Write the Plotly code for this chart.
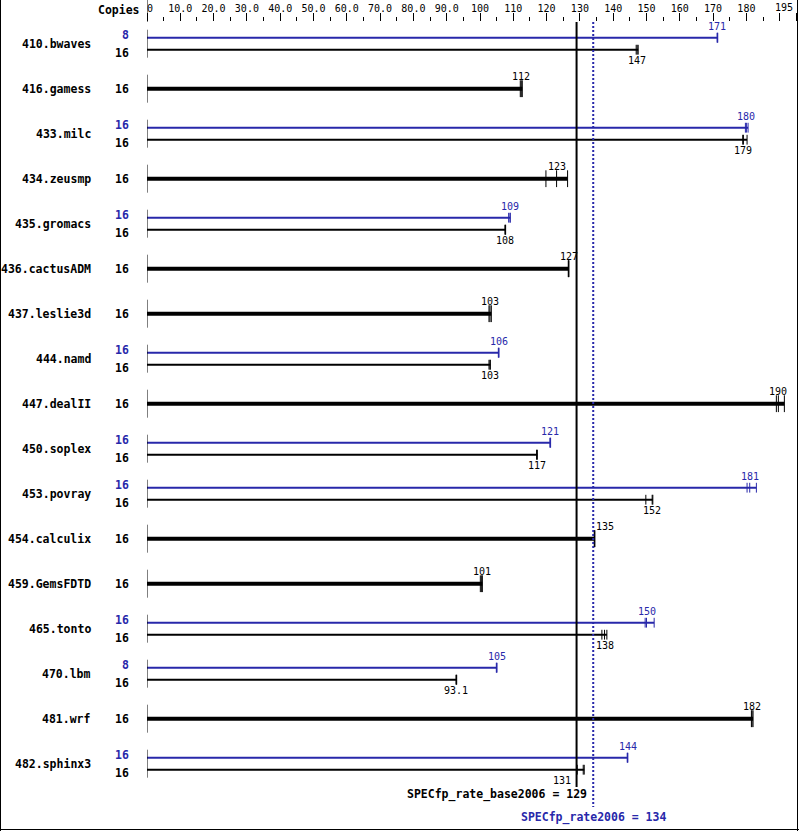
import plotly.graph_objects as go

# ---------------- data ----------------
benchmarks = ["410.bwaves", "416.gamess", "433.milc", "434.zeusmp", "435.gromacs",
              "436.cactusADM", "437.leslie3d", "444.namd", "447.dealII", "450.soplex",
              "453.povray", "454.calculix", "459.GemsFDTD", "465.tonto", "470.lbm",
              "481.wrf", "482.sphinx3"]
base_copies = [16, 16, 16, 16, 16, 16, 16, 16, 16, 16, 16, 16, 16, 16, 16, 16, 16]
peak_copies = [8, None, 16, None, 16, None, None, 16, None, 16, 16, None, None, 16, 8, None, 16]
base_labels = ["147", "112", "179", "123", "108", "127", "103", "103", "190", "117",
               "152", "135", "101", "138", "93.1", "182", "131"]
peak_labels = ["171", None, "180", None, "109", None, None, "106", None, "121",
               "181", None, None, "150", "105", None, "144"]
base_median = [147, 112.4, 179, 123, 107.6, 126.6, 103, 103, 189.6, 117.1,
               151.7, 134.4, 100.7, 137.4, 92.9, 181.7, 131]
peak_median = [171.2, None, 180, None, 109, None, None, 105.6, None, 121.1,
               181, None, None, 150, 105, None, 144.3]
base_runs = [[146.9, 147.2, 147.5], [112.1, 112.4, 112.7], [178.9, 179.1, 180.2],
             [119.8, 123.0, 126.3], [107.5, 107.6, 107.7], [126.5, 126.6, 126.7],
             [102.7, 103.0, 103.4], [102.7, 103.0, 103.1], [189.0, 189.6, 191.4],
             [117.0, 117.1, 117.2], [149.8, 151.7, 151.9], [134.3, 134.4, 134.5],
             [100.1, 100.5, 100.7], [136.6, 137.4, 138.1], [92.8, 92.9, 93.0],
             [181.5, 181.7, 182.0], [129.2, 131.0, 131.3]]
peak_runs = [[171.2, 171.3, 171.4], None, [179.7, 180.0, 180.5], None, [108.6, 109.0, 109.1],
             None, None, [105.5, 105.6, 105.7], None, [121.0, 121.1, 121.2],
             [180.2, 181.0, 183.0], None, None, [149.6, 150.0, 152.3], [104.9, 105.0, 105.1],
             None, [144.2, 144.3, 144.4]]
base_score = 129
peak_score = 134
axis_ticks = [0, 10, 20, 30, 40, 50, 60, 70, 80, 90, 100, 110, 120, 130, 140, 150,
              160, 170, 180, 190, 195]
axis_ticktext = ["0", "10.0", "20.0", "30.0", "40.0", "50.0", "60.0", "70.0", "80.0",
                 "90.0", "100", "110", "120", "130", "140", "150", "160", "170", "180", "", "195"]
minor_ticks = [5, 15, 25, 35, 45, 55, 65, 75, 85, 95, 105, 115, 125, 135, 145, 155,
               165, 175, 185]

# ---------------- style / layout ----------------
W, H = 799, 831
ML, MT = 147, 22
PW, PH = W - ML, H - MT
XMAX = PW / 3.33
ROW0, ROWH = 43.7, 45.0
BLUE = "#2828aa"
BLACK = "#000000"
MONO = "DejaVu Sans Mono"
OFF = 6 / ROWH
CPOFF = 9 / ROWH
NB = "\u00a0"

# extra label nudges (pixels) to avoid overlapping reference lines
label_shift = {"454.calculix": 10, "482.sphinx3": -21}

# first axis label starts at the axis origin; last one is right-aligned to its tick
tick_display = list(axis_ticktext)
tick_display[0] = NB + tick_display[0]
tick_display[-1] = ""


def pxx(px):
    return (px - ML) / PW


def pxy(py):
    return (H - py) / PH


n = len(benchmarks)
fig = go.Figure()
shapes = []
ann = []

for i, name in enumerate(benchmarks):
    has_peak = peak_copies[i] is not None
    # row tick on the left
    shapes.append(dict(type="line", xref="x", yref="y", x0=0, x1=0,
                       y0=i - 14 / ROWH, y1=i + 14 / ROWH,
                       line=dict(color=BLACK, width=1)))
    ann.append(dict(x=pxx(93), y=i, xref="paper", yref="y", text=name,
                    xanchor="right", yanchor="middle", showarrow=False,
                    font=dict(family=MONO, size=11.5, color=BLACK, weight="bold")))
    shift = label_shift.get(name, 0)
    if has_peak:
        yb, yk = i - OFF, i + OFF
        # peak
        fig.add_trace(go.Scatter(x=[0, max(peak_runs[i])], y=[yb, yb], mode="lines",
                                 line=dict(color=BLUE, width=2), hoverinfo="skip"))
        fig.add_trace(go.Scatter(x=peak_runs[i], y=[yb] * len(peak_runs[i]), mode="markers",
                                 marker=dict(symbol="line-ns-open", size=7, color=BLUE,
                                             line=dict(width=1, color=BLUE)),
                                 hoverinfo="skip"))
        ann.append(dict(x=peak_median[i], y=yb, text=peak_labels[i], showarrow=False,
                        yshift=11, xanchor="center", yanchor="middle",
                        font=dict(family=MONO, size=10, color=BLUE)))
        ann.append(dict(x=pxx(131), y=i - CPOFF, xref="paper", yref="y",
                        text=str(peak_copies[i]), xanchor="right", yanchor="middle",
                        showarrow=False,
                        font=dict(family=MONO, size=11.5, color=BLUE, weight="bold")))
        # base
        fig.add_trace(go.Scatter(x=[0, max(base_runs[i])], y=[yk, yk], mode="lines",
                                 line=dict(color=BLACK, width=2), hoverinfo="skip"))
        fig.add_trace(go.Scatter(x=base_runs[i], y=[yk] * len(base_runs[i]), mode="markers",
                                 marker=dict(symbol="line-ns-open", size=7, color=BLACK,
                                             line=dict(width=1, color=BLACK)),
                                 hoverinfo="skip"))
        ann.append(dict(x=base_median[i], y=yk, text=base_labels[i], showarrow=False,
                        yshift=-11, xshift=shift, xanchor="center", yanchor="middle",
                        font=dict(family=MONO, size=10, color=BLACK)))
        ann.append(dict(x=pxx(131), y=i + CPOFF, xref="paper", yref="y",
                        text=str(base_copies[i]), xanchor="right", yanchor="middle",
                        showarrow=False,
                        font=dict(family=MONO, size=11.5, color=BLACK, weight="bold")))
    else:
        fig.add_trace(go.Scatter(x=[0, max(base_runs[i])], y=[i, i], mode="lines",
                                 line=dict(color=BLACK, width=4), hoverinfo="skip"))
        fig.add_trace(go.Scatter(x=base_runs[i], y=[i] * len(base_runs[i]), mode="markers",
                                 marker=dict(symbol="line-ns-open", size=12, color=BLACK,
                                             line=dict(width=1, color=BLACK)),
                                 hoverinfo="skip"))
        ann.append(dict(x=base_median[i], y=i, text=base_labels[i], showarrow=False,
                        yshift=12, xshift=shift, xanchor="center", yanchor="middle",
                        font=dict(family=MONO, size=10, color=BLACK)))
        ann.append(dict(x=pxx(131), y=i, xref="paper", yref="y",
                        text=str(base_copies[i]), xanchor="right", yanchor="middle",
                        showarrow=False,
                        font=dict(family=MONO, size=11.5, color=BLACK, weight="bold")))

y_top = -(ROW0 - MT) / ROWH
y_bot = (H - ROW0) / ROWH

# score lines
fig.add_trace(go.Scatter(x=[base_score, base_score], y=[y_top, (787 - ROW0) / ROWH],
                         mode="lines", line=dict(color=BLACK, width=2), hoverinfo="skip"))
fig.add_trace(go.Scatter(x=[peak_score, peak_score], y=[y_top, (807 - ROW0) / ROWH],
                         mode="lines", line=dict(color=BLUE, width=2, dash="2px,2px"),
                         hoverinfo="skip"))
ann.append(dict(x=peak_score, y=(794 - ROW0) / ROWH, text=f"SPECfp_rate_base2006 = {base_score}",
                xanchor="right", yanchor="middle", xshift=-4, showarrow=False,
                font=dict(family=MONO, size=11.5, color=BLACK, weight="bold")))
ann.append(dict(x=peak_score, y=(817 - ROW0) / ROWH, text=f"SPECfp_rate2006 = {peak_score}",
                xanchor="center", yanchor="middle", showarrow=False,
                font=dict(family=MONO, size=11.5, color=BLUE, weight="bold")))

# last axis label, right-aligned to its tick
ann.append(dict(x=axis_ticks[-1], y=pxy(8), xref="x", yref="paper", text=axis_ticktext[-1],
                xanchor="right", yanchor="middle", xshift=-1, showarrow=False,
                font=dict(family=MONO, size=10, color=BLACK)))

# top axis header
ann.append(dict(x=pxx(142), y=pxy(10), xref="paper", yref="paper", text="Copies",
                xanchor="right", yanchor="middle", showarrow=False,
                font=dict(family=MONO, size=11.5, color=BLACK, weight="bold")))
shapes.append(dict(type="line", xref="x", yref="paper", x0=0, x1=0, y0=pxy(22), y1=pxy(0),
                   line=dict(color=BLACK, width=1)))
# image border
for (x0, y0, x1, y1) in [(0.5, 0, 0.5, 831), (797.5, 0, 797.5, 831), (0, 829.5, 799, 829.5)]:
    shapes.append(dict(type="line", xref="paper", yref="paper", x0=pxx(x0), x1=pxx(x1),
                       y0=pxy(y0), y1=pxy(y1), line=dict(color=BLACK, width=1)))

fig.update_layout(
    width=W, height=H,
    margin=dict(l=ML, r=0, t=MT, b=0, autoexpand=False),
    paper_bgcolor="white", plot_bgcolor="white",
    showlegend=False,
    shapes=shapes, annotations=ann,
    xaxis=dict(range=[0, XMAX], side="top", tickmode="array", tickvals=axis_ticks,
               ticktext=tick_display, ticks="outside", ticklen=8, tickwidth=1,
               tickcolor=BLACK, showgrid=False, zeroline=False, showline=False,
               automargin=False, ticklabeloverflow="allow",
               tickfont=dict(family=MONO, size=10, color=BLACK), ticklabelstandoff=-3,
               minor=dict(tickvals=minor_ticks, ticks="outside", ticklen=4, tickwidth=1,
                          tickcolor=BLACK, showgrid=False),
               fixedrange=True),
    yaxis=dict(range=[y_bot, y_top], visible=False, fixedrange=True, automargin=False),
)

fig.write_html("out.html", config={"displayModeBar": False},
               post_script="document.body.style.margin='0';document.body.style.overflow='hidden';")
